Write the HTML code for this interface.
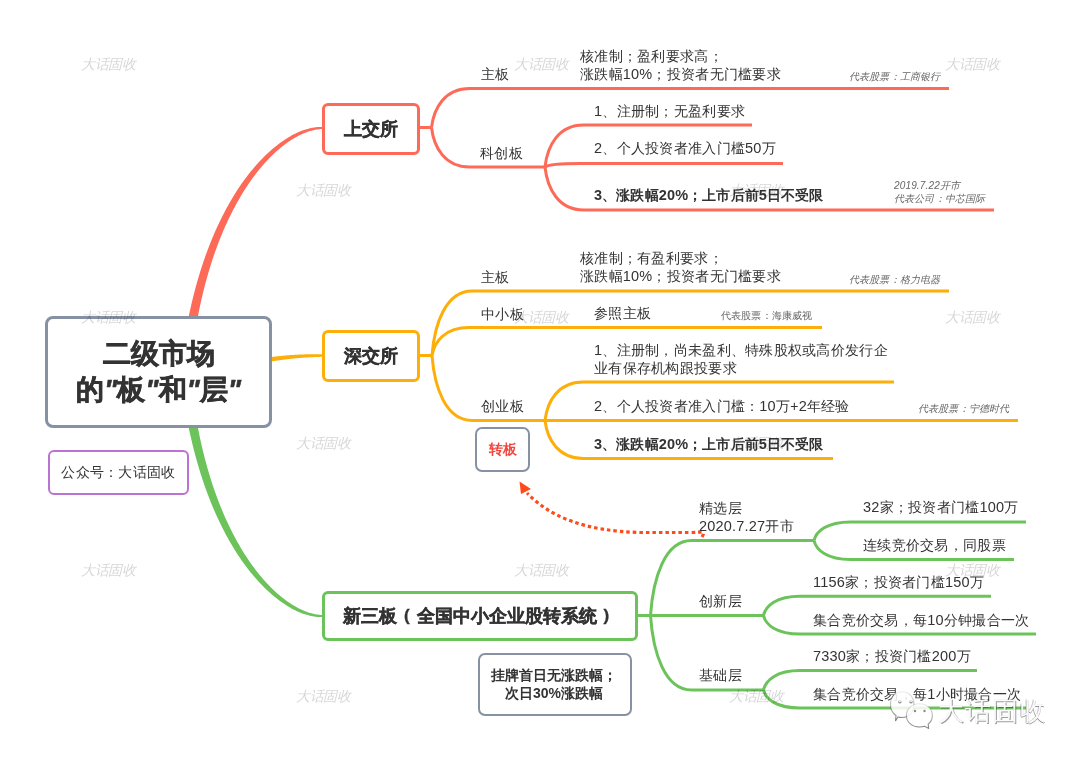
<!DOCTYPE html>
<html><head><meta charset="utf-8"><style>
html,body{margin:0;padding:0;background:#fff;}
body{width:1080px;height:760px;position:relative;overflow:hidden;will-change:transform;font-family:"Liberation Sans",sans-serif;color:#333333;}
svg{position:absolute;left:0;top:0;}
.wm{position:absolute;font-size:14px;letter-spacing:-0.4px;font-style:italic;color:rgba(0,0,0,0.17);z-index:5;white-space:nowrap;line-height:18px;}
.t{position:absolute;font-size:14px;letter-spacing:0.28px;line-height:18px;white-space:nowrap;}
.b{font-weight:bold;letter-spacing:0.1px;}
.d{font-size:14.5px;letter-spacing:0.2px;}
.s{position:absolute;font-size:10px;line-height:12px;white-space:nowrap;color:#666;letter-spacing:0.15px;}
.i{font-style:italic;}
.q{font-style:italic;}
.pr{display:inline-block;width:19.5px;text-align:center;font-weight:bold;font-size:17px;position:relative;top:-1px;}
.box{position:absolute;box-sizing:border-box;background:#fff;display:flex;align-items:center;justify-content:center;text-align:center;font-weight:bold;}
</style></head><body>
<svg width="1080" height="760" viewBox="0 0 1080 760">
<path d="M197.41,318.89 L198.37,313.90 L199.36,309.01 L200.38,304.19 L201.44,299.44 L202.54,294.76 L203.66,290.16 L204.82,285.62 L206.01,281.15 L207.23,276.75 L208.47,272.43 L209.75,268.17 L211.06,263.98 L212.39,259.86 L213.75,255.80 L215.13,251.82 L216.54,247.90 L217.98,244.06 L219.44,240.28 L220.92,236.57 L222.42,232.92 L223.94,229.34 L225.49,225.83 L227.05,222.39 L228.63,219.01 L230.23,215.70 L231.85,212.46 L233.48,209.28 L235.13,206.16 L236.80,203.11 L238.48,200.13 L240.17,197.21 L241.87,194.36 L243.59,191.57 L245.32,188.84 L247.05,186.18 L248.80,183.58 L250.56,181.05 L252.32,178.58 L254.09,176.17 L255.87,173.83 L257.65,171.54 L259.44,169.33 L261.23,167.17 L263.02,165.07 L264.82,163.04 L266.62,161.07 L268.42,159.16 L270.22,157.31 L272.02,155.52 L273.82,153.79 L275.62,152.12 L277.41,150.51 L279.20,148.97 L280.98,147.48 L282.77,146.05 L284.54,144.68 L286.31,143.37 L288.07,142.12 L289.82,140.93 L291.56,139.79 L293.30,138.71 L295.02,137.70 L296.73,136.73 L298.43,135.83 L300.12,134.98 L301.79,134.20 L303.45,133.46 L305.09,132.79 L306.72,132.17 L308.33,131.60 L309.93,131.09 L311.51,130.64 L313.07,130.24 L314.61,129.90 L316.13,129.61 L317.63,129.38 L319.11,129.20 L320.56,129.07 L322.02,129.00 L321.98,127.00 L320.49,126.98 L318.95,127.03 L317.38,127.12 L315.79,127.28 L314.18,127.49 L312.55,127.76 L310.89,128.09 L309.21,128.48 L307.52,128.93 L305.80,129.43 L304.07,129.99 L302.32,130.62 L300.55,131.30 L298.77,132.04 L296.97,132.84 L295.16,133.70 L293.33,134.62 L291.50,135.60 L289.65,136.64 L287.79,137.74 L285.93,138.90 L284.05,140.13 L282.17,141.41 L280.28,142.76 L278.38,144.16 L276.48,145.63 L274.57,147.16 L272.66,148.76 L270.74,150.41 L268.82,152.13 L266.91,153.91 L264.99,155.75 L263.07,157.66 L261.15,159.63 L259.23,161.66 L257.32,163.76 L255.41,165.92 L253.50,168.15 L251.60,170.43 L249.70,172.79 L247.81,175.21 L245.92,177.69 L244.05,180.24 L242.18,182.85 L240.33,185.53 L238.48,188.28 L236.64,191.09 L234.82,193.97 L233.01,196.91 L231.21,199.92 L229.43,203.00 L227.66,206.15 L225.91,209.36 L224.18,212.64 L222.46,215.98 L220.76,219.40 L219.08,222.88 L217.42,226.43 L215.79,230.05 L214.17,233.74 L212.57,237.50 L211.00,241.32 L209.45,245.22 L207.93,249.18 L206.43,253.22 L204.96,257.32 L203.52,261.50 L202.10,265.74 L200.71,270.06 L199.35,274.44 L198.03,278.90 L196.73,283.43 L195.46,288.03 L194.23,292.70 L193.03,297.44 L191.87,302.26 L190.74,307.14 L189.64,312.10 L188.59,317.11Z" fill="#fe6a58"/><path d="M188.59,426.89 L189.64,431.90 L190.74,436.86 L191.87,441.74 L193.03,446.56 L194.23,451.30 L195.46,455.97 L196.73,460.57 L198.03,465.10 L199.35,469.56 L200.71,473.94 L202.10,478.26 L203.52,482.50 L204.96,486.68 L206.43,490.78 L207.93,494.82 L209.45,498.78 L211.00,502.68 L212.57,506.50 L214.17,510.26 L215.79,513.95 L217.42,517.57 L219.08,521.12 L220.76,524.60 L222.46,528.02 L224.18,531.36 L225.91,534.64 L227.66,537.85 L229.43,541.00 L231.21,544.08 L233.01,547.09 L234.82,550.03 L236.64,552.91 L238.48,555.72 L240.33,558.47 L242.18,561.15 L244.05,563.76 L245.92,566.31 L247.81,568.79 L249.70,571.21 L251.60,573.57 L253.50,575.85 L255.41,578.08 L257.32,580.24 L259.23,582.34 L261.15,584.37 L263.07,586.34 L264.99,588.25 L266.91,590.09 L268.82,591.87 L270.74,593.59 L272.66,595.24 L274.57,596.84 L276.48,598.37 L278.38,599.84 L280.28,601.24 L282.17,602.59 L284.05,603.87 L285.93,605.10 L287.79,606.26 L289.65,607.36 L291.50,608.40 L293.33,609.38 L295.16,610.30 L296.97,611.16 L298.77,611.96 L300.55,612.70 L302.32,613.38 L304.07,614.01 L305.80,614.57 L307.52,615.07 L309.21,615.52 L310.89,615.91 L312.55,616.24 L314.18,616.51 L315.79,616.72 L317.38,616.88 L318.95,616.97 L320.49,617.02 L321.98,617.00 L322.02,615.00 L320.56,614.93 L319.11,614.80 L317.63,614.62 L316.13,614.39 L314.61,614.10 L313.07,613.76 L311.51,613.36 L309.93,612.91 L308.33,612.40 L306.72,611.83 L305.09,611.21 L303.45,610.54 L301.79,609.80 L300.12,609.02 L298.43,608.17 L296.73,607.27 L295.02,606.30 L293.30,605.29 L291.56,604.21 L289.82,603.07 L288.07,601.88 L286.31,600.63 L284.54,599.32 L282.77,597.95 L280.98,596.52 L279.20,595.03 L277.41,593.49 L275.62,591.88 L273.82,590.21 L272.02,588.48 L270.22,586.69 L268.42,584.84 L266.62,582.93 L264.82,580.96 L263.02,578.93 L261.23,576.83 L259.44,574.67 L257.65,572.46 L255.87,570.17 L254.09,567.83 L252.32,565.42 L250.56,562.95 L248.80,560.42 L247.05,557.82 L245.32,555.16 L243.59,552.43 L241.87,549.64 L240.17,546.79 L238.48,543.87 L236.80,540.89 L235.13,537.84 L233.48,534.72 L231.85,531.54 L230.23,528.30 L228.63,524.99 L227.05,521.61 L225.49,518.17 L223.94,514.66 L222.42,511.08 L220.92,507.43 L219.44,503.72 L217.98,499.94 L216.54,496.10 L215.13,492.18 L213.75,488.20 L212.39,484.14 L211.06,480.02 L209.75,475.83 L208.47,471.57 L207.23,467.25 L206.01,462.85 L204.82,458.38 L203.66,453.84 L202.54,449.24 L201.44,444.56 L200.38,439.81 L199.36,434.99 L198.37,430.10 L197.41,425.11Z" fill="#6bc35a"/><path d="M271.32,361.48 L272.03,361.36 L272.74,361.25 L273.45,361.13 L274.15,361.02 L274.85,360.91 L275.55,360.81 L276.24,360.70 L276.93,360.60 L277.62,360.50 L278.30,360.40 L278.98,360.30 L279.66,360.21 L280.33,360.11 L281.00,360.02 L281.67,359.93 L282.33,359.84 L283.00,359.75 L283.66,359.66 L284.32,359.58 L284.97,359.50 L285.62,359.41 L286.27,359.33 L286.92,359.26 L287.57,359.18 L288.21,359.10 L288.86,359.03 L289.50,358.96 L290.13,358.89 L290.77,358.82 L291.41,358.75 L292.04,358.68 L292.67,358.62 L293.30,358.55 L293.93,358.49 L294.56,358.43 L295.19,358.37 L295.81,358.31 L296.44,358.25 L297.06,358.20 L297.68,358.14 L298.30,358.09 L298.93,358.04 L299.55,357.99 L300.17,357.94 L300.78,357.89 L301.40,357.84 L302.02,357.79 L302.64,357.75 L303.26,357.70 L303.87,357.66 L304.49,357.62 L305.11,357.58 L305.72,357.54 L306.34,357.50 L306.96,357.46 L307.58,357.42 L308.19,357.39 L308.81,357.35 L309.43,357.32 L310.05,357.28 L310.67,357.25 L311.29,357.22 L311.91,357.19 L312.53,357.16 L313.16,357.13 L313.78,357.10 L314.41,357.07 L315.03,357.05 L315.66,357.02 L316.29,357.00 L316.92,356.97 L317.55,356.95 L318.18,356.92 L318.82,356.90 L319.45,356.88 L320.09,356.86 L320.73,356.84 L321.37,356.82 L322.02,356.80 L321.98,354.20 L321.34,354.20 L320.69,354.19 L320.05,354.19 L319.41,354.19 L318.77,354.19 L318.13,354.19 L317.50,354.19 L316.86,354.19 L316.23,354.19 L315.60,354.19 L314.96,354.20 L314.33,354.20 L313.71,354.21 L313.08,354.21 L312.45,354.22 L311.82,354.23 L311.20,354.23 L310.57,354.24 L309.95,354.25 L309.32,354.26 L308.70,354.27 L308.07,354.29 L307.45,354.30 L306.83,354.32 L306.20,354.33 L305.58,354.35 L304.95,354.37 L304.33,354.38 L303.71,354.40 L303.08,354.42 L302.46,354.45 L301.83,354.47 L301.21,354.49 L300.58,354.52 L299.96,354.55 L299.33,354.57 L298.70,354.60 L298.07,354.63 L297.44,354.66 L296.81,354.70 L296.18,354.73 L295.55,354.76 L294.91,354.80 L294.28,354.84 L293.64,354.88 L293.00,354.92 L292.36,354.96 L291.72,355.00 L291.08,355.05 L290.44,355.09 L289.79,355.14 L289.14,355.19 L288.49,355.24 L287.84,355.29 L287.19,355.35 L286.53,355.40 L285.87,355.46 L285.21,355.51 L284.55,355.57 L283.88,355.64 L283.21,355.70 L282.54,355.76 L281.87,355.83 L281.19,355.90 L280.51,355.97 L279.83,356.04 L279.15,356.11 L278.46,356.18 L277.77,356.26 L277.08,356.34 L276.38,356.42 L275.68,356.50 L274.98,356.58 L274.27,356.67 L273.56,356.76 L272.84,356.85 L272.13,356.94 L271.40,357.03 L270.68,357.12Z" fill="#fdae08"/><path d="M419,127.5 L431.5,127.5" stroke="#fe6a58" stroke-width="3" fill="none"/><path d="M431.5,127.5 C433.81,108.13 444.73,88.5 469.62,88.5 L949,88.5" stroke="#fe6a58" stroke-width="3" fill="none"/><path d="M431.5,127.5 C433.81,147.12 444.74,167 469.66,167 L545,167" stroke="#fe6a58" stroke-width="3" fill="none"/><path d="M545,167 C547.32,146.14 558.31,125 583.36,125 L752,125" stroke="#fe6a58" stroke-width="3" fill="none"/><path d="M545,167 C547.14,165.26 557.24,163.5 580.28,163.5 L783,163.5" stroke="#fe6a58" stroke-width="3" fill="none"/><path d="M545,167 C547.33,188.35 558.34,210 583.44,210 L994,210" stroke="#fe6a58" stroke-width="3" fill="none"/><path d="M420,355.5 L432,355.5" stroke="#fdae08" stroke-width="3" fill="none"/><path d="M432,355.5 C434.43,323.47 445.94,291 472.16,291 L949,291" stroke="#fdae08" stroke-width="3" fill="none"/><path d="M432,355.5 C434.26,341.60 444.92,327.5 469.24,327.5 L822,327.5" stroke="#fdae08" stroke-width="3" fill="none"/><path d="M432,355.5 C434.44,387.78 445.95,420.5 472.20,420.5 L545,420.5" stroke="#fdae08" stroke-width="3" fill="none"/><path d="M545,420.5 C547.31,401.38 558.21,382 583.08,382 L894,382" stroke="#fdae08" stroke-width="3" fill="none"/><path d="M545,420.5 L1018,420.5" stroke="#fdae08" stroke-width="3" fill="none"/><path d="M545,420.5 C547.31,439.37 558.20,458.5 583.04,458.5 L833,458.5" stroke="#fdae08" stroke-width="3" fill="none"/><path d="M638,615.5 L650.5,615.5" stroke="#6bc35a" stroke-width="3" fill="none"/><path d="M650.5,615.5 C652.98,578.25 664.73,540.5 691.50,540.5 L814,540.5" stroke="#6bc35a" stroke-width="3" fill="none"/><path d="M650.5,615.5 L764,615.5" stroke="#6bc35a" stroke-width="3" fill="none"/><path d="M650.5,615.5 C652.98,652.50 664.71,690 691.46,690 L764,690" stroke="#6bc35a" stroke-width="3" fill="none"/><path d="M814,540.5 C816.21,531.31 826.66,522 850.48,522 L1026,522" stroke="#6bc35a" stroke-width="3" fill="none"/><path d="M814,540.5 C816.21,549.94 826.67,559.5 850.52,559.5 L1014,559.5" stroke="#6bc35a" stroke-width="3" fill="none"/><path d="M763.5,615.5 C765.71,605.97 776.18,596.3 800.04,596.3 L991,596.3" stroke="#6bc35a" stroke-width="3" fill="none"/><path d="M763.5,615.5 C765.71,624.69 776.16,634 799.98,634 L1036,634" stroke="#6bc35a" stroke-width="3" fill="none"/><path d="M763.5,690 C765.72,680.37 776.18,670.6 800.05,670.6 L977,670.6" stroke="#6bc35a" stroke-width="3" fill="none"/><path d="M763.5,690 C765.71,698.94 776.14,708 799.94,708 L1026,708" stroke="#6bc35a" stroke-width="3" fill="none"/><path d="M702,537 C706,530 702,532.5 690,532.5 L640,532.5 C585,531 550,517 527,493" stroke="#ff4a1a" stroke-width="3.2" stroke-dasharray="3.5 3" fill="none"/><path d="M519.5,481.5 L531,489 L521,494 Z" fill="#ff4a1a"/>
</svg>
<div class="box" style="left:45px;top:316px;width:227px;height:112px;border:3px solid #8691a4;border-radius:8px;font-size:28px;line-height:36px;-webkit-text-stroke:0.6px #333;"><div>二级市场<br>的<span class="q">"</span>板<span class="q">"</span>和<span class="q">"</span>层<span class="q">"</span></div></div>
<div class="box" style="left:48px;top:450px;width:141px;height:45px;border:2px solid #bb72d2;border-radius:6px;font-size:14px;letter-spacing:0.28px;font-weight:normal;">公众号：大话固收</div>
<div class="box" style="left:322px;top:103px;width:98px;height:52px;border:3px solid #fe6a58;border-radius:6px;font-size:18px;-webkit-text-stroke:0.35px #333;">上交所</div>
<div class="box" style="left:322px;top:330px;width:98px;height:52px;border:3px solid #fdae08;border-radius:6px;font-size:18px;-webkit-text-stroke:0.35px #333;">深交所</div>
<div class="box" style="left:322px;top:591px;width:316px;height:50px;border:3px solid #6bc35a;border-radius:6px;font-size:18px;-webkit-text-stroke:0.35px #333;justify-content:flex-start;padding-left:18px;"><div>新三板<span class="pr">(</span>全国中小企业股转系统<span class="pr">)</span></div></div>
<div class="box" style="left:475px;top:427px;width:55px;height:45px;border:2.5px solid #8691a4;border-radius:7px;font-size:14px;color:#f2453d;">转板</div>
<div class="box" style="left:478px;top:653px;width:154px;height:63px;border:2px solid #8691a4;border-radius:7px;font-size:14px;line-height:18px;padding:0 2px 2px 0;">挂牌首日无涨跌幅；<br>次日30%涨跌幅</div>
<div class="t" style="left:481px;top:65px;">主板</div><div class="t" style="left:580px;top:47px;">核准制；盈利要求高；<br>涨跌幅<span class="d">10%</span>；投资者无门槛要求</div><div class="s i" style="left:849px;top:71px;">代表股票：工商银行</div><div class="t" style="left:480px;top:144px;">科创板</div><div class="t" style="left:594px;top:102px;"><span class="d">1</span>、注册制；无盈利要求</div><div class="t" style="left:594px;top:139px;"><span class="d">2</span>、个人投资者准入门槛<span class="d">50</span>万</div><div class="t b" style="left:594px;top:186px;"><span class="d">3</span>、涨跌幅<span class="d">20%</span>；上市后前<span class="d">5</span>日不受限</div><div class="s i" style="left:894px;top:178.5px;line-height:13px">2019.7.22开市<br>代表公司：中芯国际</div><div class="t" style="left:481px;top:268px;">主板</div><div class="t" style="left:580px;top:249px;">核准制；有盈利要求；<br>涨跌幅<span class="d">10%</span>；投资者无门槛要求</div><div class="s i" style="left:849px;top:274px;">代表股票：格力电器</div><div class="t" style="left:481px;top:305px;">中小板</div><div class="t" style="left:594px;top:304px;">参照主板</div><div class="s" style="left:721px;top:310px;">代表股票：海康威视</div><div class="t" style="left:481px;top:397px;">创业板</div><div class="t" style="left:594px;top:341px;"><span class="d">1</span>、注册制，尚未盈利、特殊股权或高价发行企<br>业有保存机构跟投要求</div><div class="t" style="left:594px;top:397px;"><span class="d">2</span>、个人投资者准入门槛：<span class="d">10</span>万+<span class="d">2</span>年经验</div><div class="s i" style="left:918px;top:403px;">代表股票：宁德时代</div><div class="t b" style="left:594px;top:435px;"><span class="d">3</span>、涨跌幅<span class="d">20%</span>；上市后前<span class="d">5</span>日不受限</div><div class="t" style="left:699px;top:499px;">精选层<br><span class="d">2020.7.27</span>开市</div><div class="t" style="left:699px;top:592px;">创新层</div><div class="t" style="left:699px;top:666px;">基础层</div><div class="t" style="left:863px;top:498px;"><span class="d">32</span>家；投资者门槛<span class="d">100</span>万</div><div class="t" style="left:863px;top:536px;">连续竞价交易，同股票</div><div class="t" style="left:813px;top:573px;"><span class="d">1156</span>家；投资者门槛<span class="d">150</span>万</div><div class="t" style="left:813px;top:611px;">集合竞价交易，每<span class="d">10</span>分钟撮合一次</div><div class="t" style="left:813px;top:647px;"><span class="d">7330</span>家；投资门槛<span class="d">200</span>万</div><div class="t" style="left:813px;top:685px;">集合竞价交易，每<span class="d">1</span>小时撮合一次</div>
<div class="wm" style="left:81px;top:55px">大话固收</div><div class="wm" style="left:514px;top:55px">大话固收</div><div class="wm" style="left:945px;top:55px">大话固收</div><div class="wm" style="left:296px;top:181px">大话固收</div><div class="wm" style="left:729px;top:181px">大话固收</div><div class="wm" style="left:81px;top:308px">大话固收</div><div class="wm" style="left:514px;top:308px">大话固收</div><div class="wm" style="left:945px;top:308px">大话固收</div><div class="wm" style="left:296px;top:434px">大话固收</div><div class="wm" style="left:729px;top:434px">大话固收</div><div class="wm" style="left:81px;top:561px">大话固收</div><div class="wm" style="left:514px;top:561px">大话固收</div><div class="wm" style="left:945px;top:561px">大话固收</div><div class="wm" style="left:296px;top:687px">大话固收</div><div class="wm" style="left:729px;top:687px">大话固收</div>
<svg width="1080" height="760" style="z-index:6">
<defs><linearGradient id="gs" x1="0" y1="0" x2="0" y2="1"><stop offset="0" stop-color="#000" stop-opacity="0.08"/><stop offset="1" stop-color="#000" stop-opacity="0.5"/></linearGradient></defs>
<g fill="rgba(255,255,255,0.85)" stroke="url(#gs)" stroke-width="1.1">
<path d="M902,691.8 C909,691.8 914,697 914,704.5 C914,712 909,717.5 902,717.5 C900,717.5 899,717.3 898,717 L895.5,721 L896,715.5 C892.5,713 890.5,709 890.5,704.5 C890.5,697 895.5,691.8 902,691.8 Z"/>
<circle cx="899.8" cy="701.6" r="1.3"/><circle cx="911" cy="701.6" r="1.3"/>
<path d="M919.4,703.8 C926.8,703.8 932.4,708.8 932.4,715.4 C932.4,719 930.8,722 928.2,724.2 L928.6,728.4 L924.6,726.3 C923,726.8 921.2,727 919.4,727 C912,727 906.4,722 906.4,715.4 C906.4,708.8 912,703.8 919.4,703.8 Z"/>
</g>
<g fill="rgba(60,60,60,0.6)"><circle cx="915" cy="711" r="1.2"/><circle cx="924.5" cy="711" r="1.2"/></g>
</svg>
<div style="position:absolute;left:938px;top:695px;font-size:26px;letter-spacing:1.2px;line-height:32px;color:rgba(255,255,255,0.95);text-shadow:0.8px 0.8px 0.6px rgba(0,0,0,0.38),-0.5px -0.3px 0.5px rgba(0,0,0,0.22);z-index:7;white-space:nowrap;">大话固收</div>
</body></html>
